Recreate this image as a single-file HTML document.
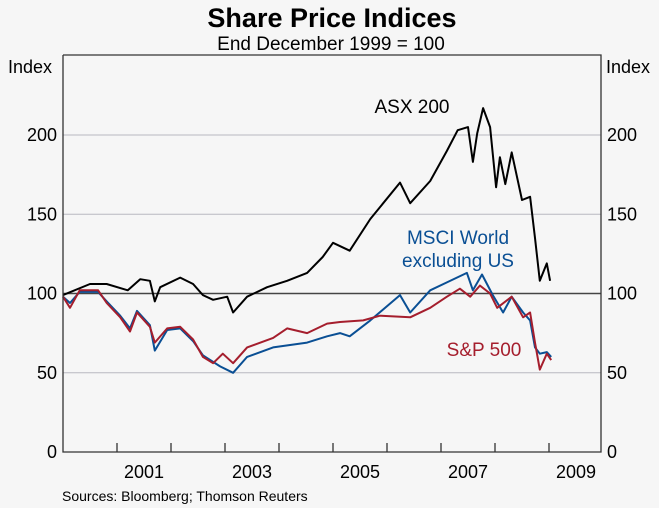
<!DOCTYPE html>
<html><head><meta charset="utf-8"><style>
body{margin:0;background:#f6f6f6;}
svg{display:block;font-family:"Liberation Sans",sans-serif;}
</style></head><body>
<svg id="chart" width="659" height="508" viewBox="0 0 659 508" xmlns="http://www.w3.org/2000/svg">
<rect width="659" height="508" fill="#f6f6f6"/>
<text x="332" y="27" text-anchor="middle" font-size="27" font-weight="bold">Share Price Indices</text>
<text x="331" y="50" text-anchor="middle" font-size="19">End December 1999 = 100</text>
<text x="8" y="73" font-size="18">Index</text>
<text x="606" y="73" font-size="18">Index</text>
<g id="grid"></g>
<g id="series"></g>
<g id="axes"></g>
<text x="412" y="113" text-anchor="middle" font-size="19" fill="#000">ASX 200</text>
<text x="458" y="244" text-anchor="middle" font-size="19" fill="#0a4f94">MSCI World</text>
<text x="458" y="267" text-anchor="middle" font-size="19" fill="#0a4f94">excluding US</text>
<text x="484" y="356" text-anchor="middle" font-size="19" fill="#a51e2d">S&amp;P 500</text>
<text x="62" y="501" font-size="14">Sources: Bloomberg; Thomson Reuters</text>
</svg>
<script>
const yTicks=[0,50,100,150,200];
const xYearLabels=["2001","2003","2005","2007","2009"];
const asxT=[2000.0,2000.5,2000.81,2001.2,2001.43,2001.61,2001.7,2001.8,2002.17,2002.41,2002.59,2002.78,2003.04,2003.15,2003.41,2003.78,2004.15,2004.52,2004.81,2005.0,2005.31,2005.69,2006.24,2006.43,2006.8,2007.11,2007.31,2007.5,2007.59,2007.67,2007.78,2007.91,2008.02,2008.09,2008.19,2008.31,2008.5,2008.65,2008.74,2008.83,2008.96,2009.02];
const asxV=[99,106,106,102,109,108,95,104,110,106,99,96,98,88,98,104,108,113,123,132,127,147,170,157,171,190,203,205,183,201,217,205,167,186,169,189,159,161,135,108,119,108];
const spT=[2000.0,2000.13,2000.31,2000.65,2000.81,2001.06,2001.24,2001.37,2001.61,2001.7,2001.93,2002.17,2002.41,2002.59,2002.78,2002.96,2003.15,2003.41,2003.89,2004.15,2004.52,2004.89,2005.13,2005.56,2005.87,2006.43,2006.8,2007.11,2007.35,2007.54,2007.72,2007.91,2008.04,2008.31,2008.52,2008.65,2008.74,2008.83,2008.96,2009.04];
const spV=[98,91,102,102,94,85,76,88,79,69,78,79,71,60,56,62,56,66,72,78,75,81,82,83,86,85,91,98,103,98,105,100,91,98,85,88,69,52,62,58];
const msciT=[2000.0,2000.13,2000.31,2000.65,2000.81,2001.06,2001.24,2001.37,2001.61,2001.7,2001.93,2002.17,2002.41,2002.59,2002.91,2003.15,2003.41,2003.89,2004.52,2004.89,2005.13,2005.31,2005.69,2006.24,2006.43,2006.8,2007.11,2007.48,2007.59,2007.76,2007.96,2008.15,2008.31,2008.52,2008.65,2008.74,2008.83,2008.96,2009.04];
const msciV=[98,94,101,101,95,86,78,89,80,64,77,78,70,61,54,50,60,66,69,73,75,73,83,99,88,102,107,113,102,112,99,88,98,88,83,66,62,63,60];

const L=63,R=601,T=55,B=452;
const xS=t=>L+(t-2000)*54;
const yS=v=>B-v*(B-135)/200;
const NS="http://www.w3.org/2000/svg";
function mk(tag,attrs,parent){const e=document.createElementNS(NS,tag);for(const k in attrs)e.setAttribute(k,attrs[k]);parent.appendChild(e);return e;}
const grid=document.getElementById('grid'),axes=document.getElementById('axes'),ser=document.getElementById('series');
yTicks.forEach(v=>{
  if(v>0){const ln=mk('line',{x1:L,x2:R,y1:yS(v),y2:yS(v),stroke:v===100?'#444':'#b8b8c0','stroke-width':v===100?1.5:1},v===100?ser:grid);
  
  }
  const a=mk('text',{x:57,y:yS(v)+6,'text-anchor':'end','font-size':18},axes);a.textContent=v;
  
  
  const b=mk('text',{x:607,y:yS(v)+6,'font-size':18},axes);b.textContent=v;
  
  
});
const frame=mk('path',{d:`M${L},${T}V${B}H${R}V${T}H${L}`,fill:'none',stroke:'#333','stroke-width':1.3},axes);


for(let y=2001;y<=2009;y++){
  const tk=mk('line',{x1:xS(y),x2:xS(y),y1:B,y2:B-9,stroke:'#333','stroke-width':1.3},axes);
  
  
}
xYearLabels.forEach(s=>{const y=+s;const t=mk('text',{x:xS(y+0.5),y:478,'text-anchor':'middle','font-size':18},axes);t.textContent=s;
  
  });
function line(ts,vs,col,name){
  const d=ts.map((t,i)=>(i?'L':'M')+xS(t).toFixed(1)+','+yS(vs[i]).toFixed(1)).join('');
  const p=mk('path',{d:d,fill:'none',stroke:col,'stroke-width':2,'stroke-linejoin':'round'},ser);
  
  
}
line(msciT,msciV,'#0a4f94','msci-world-line');
line(spT,spV,'#a51e2d','sp500-line');
line(asxT,asxV,'#000','asx200-line');
</script>
</body></html>
